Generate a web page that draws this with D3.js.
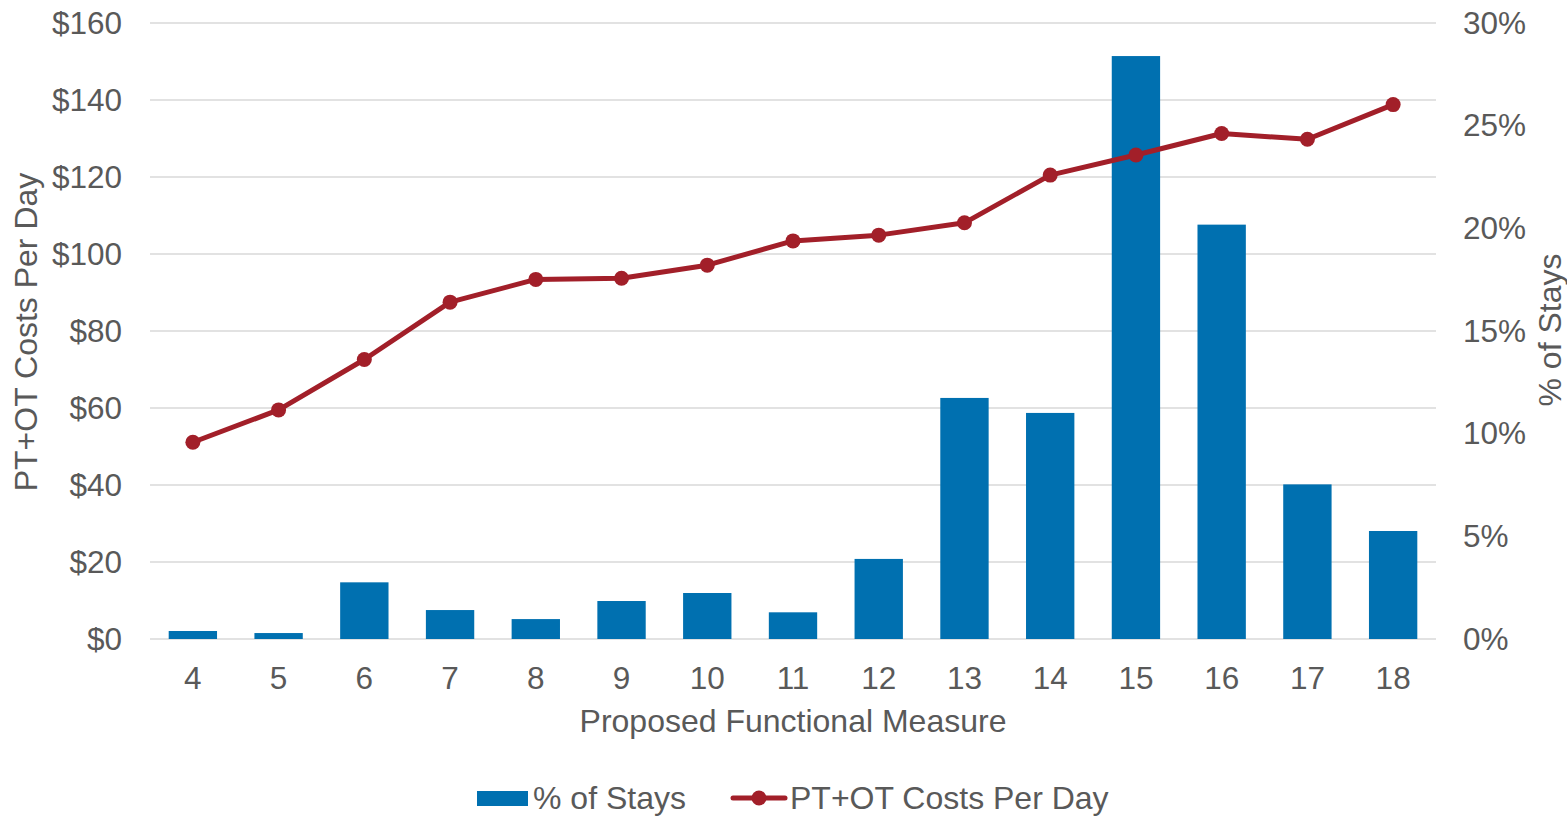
<!DOCTYPE html>
<html>
<head>
<meta charset="utf-8">
<script src="https://cdn.jsdelivr.net/npm/d3@7"></script>
<style>
  html, body { margin: 0; padding: 0; background: #ffffff; }
  svg { display: block; font-family: "Liberation Sans", Arial, sans-serif; }
</style>
</head>
<body>
<svg id="chart" width="1567" height="822"></svg>
<script>
// Functional measure scores on the x axis
const categories = ["4", "5", "6", "7", "8", "9", "10", "11", "12", "13", "14", "15", "16", "17", "18"];
// Share of stays at each score (%)
const staysPct = [0.39, 0.29, 2.76, 1.41, 0.97, 1.85, 2.24, 1.30, 3.90, 11.74, 11.01, 28.39, 20.18, 7.53, 5.26];
// PT+OT costs per day ($)
const costPerDay = [51.1, 59.5, 72.6, 87.5, 93.4, 93.7, 97.1, 103.4, 104.9, 108.1, 120.5, 125.7, 131.3, 129.8, 138.8];
// Axis ticks
const costTicks = [0, 20, 40, 60, 80, 100, 120, 140, 160];
const pctTicks = [0, 5, 10, 15, 20, 25, 30];

const BLUE = "#0070b0";
const RED = "#a21f29";
const TEXT = "#595959";
const GRID = "#d9d9d9";
const FONT = 31.5;
const TITLE_FONT = 32;

const svg = d3.select("#chart");
const plot = { left: 150, right: 1436, top: 23, bottom: 639 };

const x = d3.scaleBand()
  .domain(categories)
  .range([plot.left, plot.right])
  .paddingInner(0.436)
  .paddingOuter(0.218);

const yCost = d3.scaleLinear().domain([0, 160]).range([plot.bottom, plot.top]);
const yPct = d3.scaleLinear().domain([0, 30]).range([plot.bottom, plot.top]);

// Horizontal gridlines
svg.append("g")
  .selectAll("line")
  .data(costTicks)
  .join("line")
  .attr("x1", plot.left)
  .attr("x2", plot.right)
  .attr("y1", d => yCost(d))
  .attr("y2", d => yCost(d))
  .attr("stroke", GRID)
  .attr("stroke-width", 1.4);

// Bars: % of stays (right axis)
svg.append("g")
  .selectAll("rect")
  .data(categories.map((c, i) => ({ c, v: staysPct[i] })))
  .join("rect")
  .attr("x", d => x(d.c))
  .attr("width", x.bandwidth())
  .attr("y", d => yPct(d.v))
  .attr("height", d => yPct(0) - yPct(d.v))
  .attr("fill", BLUE);

// Line: cost per day (left axis)
const pts = categories.map((c, i) => ({ c, v: costPerDay[i] }));
const line = d3.line()
  .x(d => x(d.c) + x.bandwidth() / 2)
  .y(d => yCost(d.v));

svg.append("path")
  .datum(pts)
  .attr("d", line)
  .attr("fill", "none")
  .attr("stroke", RED)
  .attr("stroke-width", 5)
  .attr("stroke-linejoin", "round");

svg.append("g")
  .selectAll("circle")
  .data(pts)
  .join("circle")
  .attr("cx", d => x(d.c) + x.bandwidth() / 2)
  .attr("cy", d => yCost(d.v))
  .attr("r", 7.5)
  .attr("fill", RED);

// Axes
function styleAxis(g) {
  g.select(".domain").remove();
  g.selectAll(".tick line").remove();
  g.selectAll("text")
    .attr("fill", TEXT)
    .attr("font-size", FONT)
    .attr("font-family", "'Liberation Sans', Arial, sans-serif");
}

svg.append("g")
  .attr("transform", `translate(${plot.left},0)`)
  .call(d3.axisLeft(yCost).tickValues(costTicks).tickSize(0).tickPadding(28).tickFormat(d => "$" + d))
  .call(styleAxis);

svg.append("g")
  .attr("transform", `translate(${plot.right},0)`)
  .call(d3.axisRight(yPct).tickValues(pctTicks).tickSize(0).tickPadding(27).tickFormat(d => d + "%"))
  .call(styleAxis);

svg.append("g")
  .attr("transform", `translate(0,${plot.bottom})`)
  .call(d3.axisBottom(x).tickSize(0).tickPadding(28))
  .call(styleAxis);

// Axis titles
svg.append("text")
  .attr("x", (plot.left + plot.right) / 2)
  .attr("y", 732)
  .attr("text-anchor", "middle")
  .attr("fill", TEXT)
  .attr("font-size", TITLE_FONT)
  .text("Proposed Functional Measure");

svg.append("text")
  .attr("transform", "translate(37,332) rotate(-90)")
  .attr("text-anchor", "middle")
  .attr("fill", TEXT)
  .attr("font-size", TITLE_FONT)
  .text("PT+OT Costs Per Day");

svg.append("text")
  .attr("transform", "translate(1561,330) rotate(-90)")
  .attr("text-anchor", "middle")
  .attr("fill", TEXT)
  .attr("font-size", TITLE_FONT)
  .text("% of Stays");

// Legend
const legend = svg.append("g");
legend.append("rect")
  .attr("x", 477).attr("y", 791)
  .attr("width", 51).attr("height", 15)
  .attr("fill", BLUE);
legend.append("text")
  .attr("x", 533).attr("y", 809)
  .attr("fill", TEXT)
  .attr("font-size", TITLE_FONT)
  .text("% of Stays");
legend.append("line")
  .attr("x1", 733).attr("x2", 785)
  .attr("y1", 798).attr("y2", 798)
  .attr("stroke", RED)
  .attr("stroke-width", 5)
  .attr("stroke-linecap", "round");
legend.append("circle")
  .attr("cx", 759).attr("cy", 798).attr("r", 7.5)
  .attr("fill", RED);
legend.append("text")
  .attr("x", 790).attr("y", 809)
  .attr("fill", TEXT)
  .attr("font-size", TITLE_FONT)
  .text("PT+OT Costs Per Day");
</script>
</body>
</html>
